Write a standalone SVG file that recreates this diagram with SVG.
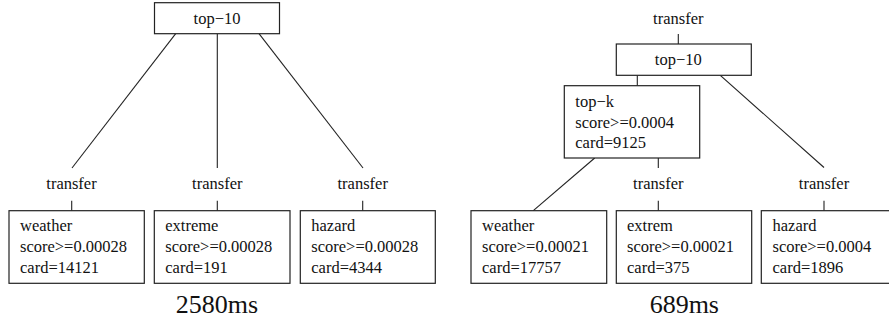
<svg xmlns="http://www.w3.org/2000/svg" width="889" height="320" viewBox="0 0 889 320">
<style>
text{font-family:"Liberation Serif","Times New Roman",serif;font-size:16.5px;fill:#111}
.c{text-anchor:middle}
.big{font-size:26px;text-anchor:middle}
rect{fill:#fff;stroke:#222;stroke-width:1.2}
line{stroke:#222;stroke-width:1.1}
</style>
<rect x="0" y="0" width="889" height="320" style="stroke:none"/>
<g id="connectors">
<line x1="175.7" y1="33.7" x2="72" y2="168"/>
<line x1="217.3" y1="33.7" x2="217.3" y2="168"/>
<line x1="259" y1="33.7" x2="363" y2="168"/>
<line x1="71.7" y1="200.7" x2="71.7" y2="210.7"/>
<line x1="217.3" y1="200.7" x2="217.3" y2="210.7"/>
<line x1="362.7" y1="200.7" x2="362.7" y2="210.7"/>
<line x1="678.3" y1="34" x2="678.3" y2="44"/>
<line x1="637.3" y1="75.3" x2="637.3" y2="85.7"/>
<line x1="720.3" y1="75.3" x2="824" y2="167.5"/>
<line x1="594.7" y1="158" x2="533.3" y2="210.7"/>
<line x1="658.3" y1="158" x2="658.3" y2="168"/>
<line x1="658.3" y1="200.7" x2="658.3" y2="210.7"/>
<line x1="824" y1="200.7" x2="824" y2="210.7"/>
</g>
<g id="left-top10"><rect x="154.5" y="2.7" width="125" height="31"/><text class="c" x="217" y="24">top−10</text></g>
<g id="left-transfer-1"><text class="c" x="71.5" y="189">transfer</text></g>
<g id="left-transfer-2"><text class="c" x="217.3" y="189">transfer</text></g>
<g id="left-transfer-3"><text class="c" x="362.7" y="189">transfer</text></g>
<g id="left-weather"><rect x="9" y="210.7" width="135.3" height="72.6"/><text x="20" y="231">weather</text><text x="20" y="252">score&gt;=0.00028</text><text x="20" y="273">card=14121</text></g>
<g id="left-extreme"><rect x="154.3" y="210.7" width="135.7" height="72.6"/><text x="165.3" y="231">extreme</text><text x="165.3" y="252">score&gt;=0.00028</text><text x="165.3" y="273">card=191</text></g>
<g id="left-hazard"><rect x="300.3" y="210.7" width="135" height="72.6"/><text x="311.3" y="231">hazard</text><text x="311.3" y="252">score&gt;=0.00028</text><text x="311.3" y="273">card=4344</text></g>
<g id="left-time"><text class="big" x="217" y="312.5">2580ms</text></g>
<g id="right-transfer-top"><text class="c" x="678.3" y="24">transfer</text></g>
<g id="right-top10"><rect x="616.3" y="44" width="135" height="31.3"/><text class="c" x="678.3" y="65">top−10</text></g>
<g id="right-topk"><rect x="564.3" y="85.7" width="135.4" height="72.3"/><text x="575.3" y="107">top−k</text><text x="575.3" y="128">score&gt;=0.0004</text><text x="575.3" y="148">card=9125</text></g>
<g id="right-transfer-2"><text class="c" x="658.3" y="189">transfer</text></g>
<g id="right-transfer-3"><text class="c" x="824" y="189">transfer</text></g>
<g id="right-weather"><rect x="471" y="210.7" width="135.7" height="72.6"/><text x="482" y="231">weather</text><text x="482" y="252">score&gt;=0.00021</text><text x="482" y="273">card=17757</text></g>
<g id="right-extrem"><rect x="616.3" y="210.7" width="135.4" height="72.6"/><text x="627" y="231">extrem</text><text x="627" y="252">score&gt;=0.00021</text><text x="627" y="273">card=375</text></g>
<g id="right-hazard"><rect x="761.3" y="210.7" width="135" height="72.6"/><text x="772.5" y="231">hazard</text><text x="772.5" y="252">score&gt;=0.0004</text><text x="772.5" y="273">card=1896</text></g>
<g id="right-time"><text class="big" x="684.3" y="312.5">689ms</text></g>
</svg>
